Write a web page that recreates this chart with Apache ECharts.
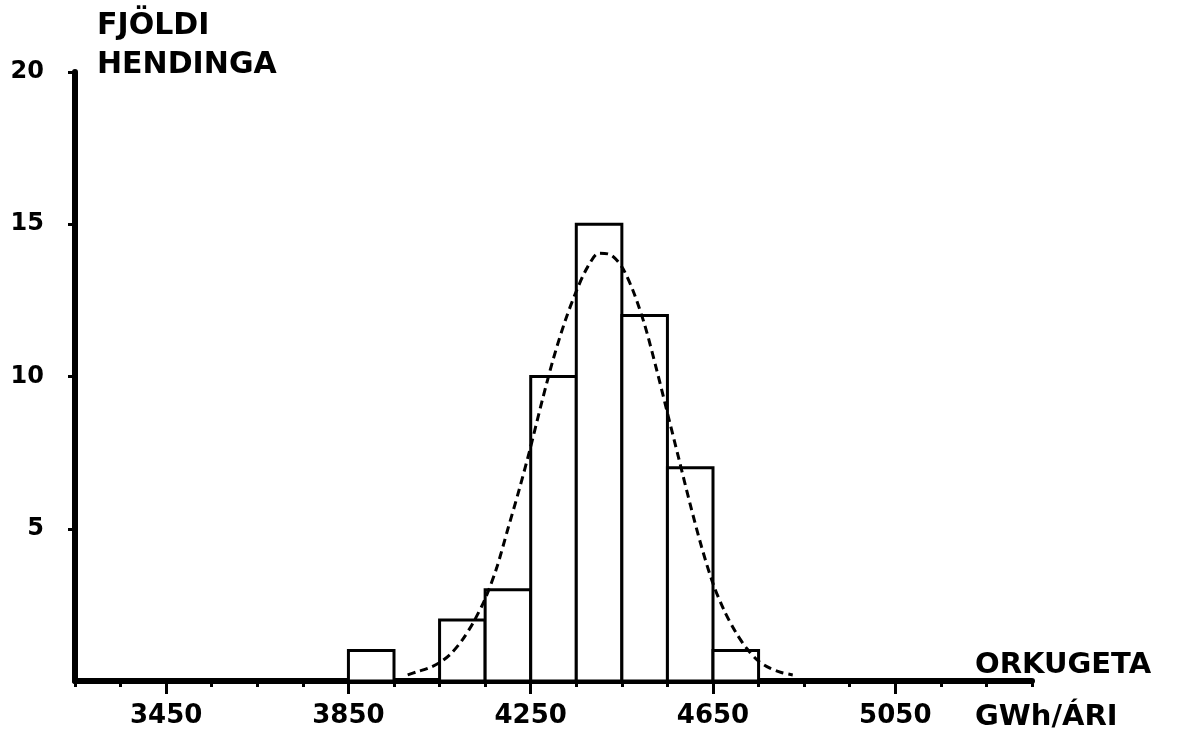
<!DOCTYPE html>
<html>
<head>
<meta charset="utf-8">
<script src="https://cdn.jsdelivr.net/npm/echarts@6/dist/echarts.min.js"></script>
<style>
html,body{margin:0;padding:0;background:#fff;}
#chart{width:1185px;height:736px;}
</style>
</head>
<body>
<div id="chart"></div>
<script>
// ---- data ----
const binStarts = [3850, 4050, 4150, 4250, 4350, 4450, 4550, 4650];
const counts = [1, 2, 3, 10, 15, 12, 7, 1];
const binWidth = 100;
const curveX = [3980, 4000, 4025, 4050, 4075, 4100, 4125, 4150, 4175, 4200, 4225, 4250, 4275, 4300, 4325, 4350, 4375, 4400,
                4425, 4450, 4475, 4500, 4525, 4550, 4575, 4600, 4625, 4650, 4675, 4700, 4725, 4750, 4775, 4800, 4825];
const curveY = [0.2, 0.3, 0.42, 0.6, 0.9, 1.35, 1.95, 2.7, 3.7, 5.0, 6.3, 7.7, 9.2, 10.6, 11.8, 12.8, 13.6, 14.05,
                14.0, 13.6, 12.8, 11.7, 10.3, 8.8, 7.3, 5.8, 4.4, 3.2, 2.3, 1.6, 1.05, 0.65, 0.42, 0.28, 0.2];
const xTickLabels = [3450, 3850, 4250, 4650, 5050];
const yTickLabels = [5, 10, 15, 20];
const yTitle = ['FJÖLDI', 'HENDINGA'];
const xTitle = ['ORKUGETA', 'GWh/ÁRI'];

const FONT = 'DejaVu Sans';
const chart = echarts.init(document.getElementById('chart'), null, {renderer: 'canvas'});

const barData = binStarts.map((s, i) => [s, s + binWidth, counts[i]]);
const curveData = curveX.map((x, i) => [x, curveY[i]]);

const option = {
  backgroundColor: '#fff',
  animation: false,
  grid: {left: 75, right: 153, top: 72, bottom: 55, containLabel: false},
  xAxis: [{
    type: 'value', min: 3250, max: 5350, interval: 100,
    axisLine: {show: true, lineStyle: {color: '#000', width: 6}},
    axisTick: {show: true, length: 6, lineStyle: {color: '#000', width: 3}},
    axisLabel: {show: true, customValues: xTickLabels, margin: 22,
      formatter: function (v) { return String(v); },
      color: '#000', fontFamily: FONT, fontWeight: 'bold', fontSize: 26},
    splitLine: {show: false}
  }, {
    type: 'value', min: 3250, max: 5350, position: 'bottom',
    axisLine: {show: false},
    axisTick: {show: true, customValues: xTickLabels, length: 13, lineStyle: {color: '#000', width: 3}},
    axisLabel: {show: false},
    splitLine: {show: false}
  }],
  yAxis: {
    type: 'value', min: 0, max: 20, interval: 5,
    axisLine: {show: true, lineStyle: {color: '#000', width: 6}},
    axisTick: {show: true, customValues: yTickLabels, length: 7, lineStyle: {color: '#000', width: 3}},
    axisLabel: {show: true, customValues: yTickLabels, margin: 31,
      formatter: function (v) { return String(v); },
      color: '#000', fontFamily: FONT, fontWeight: 'bold', fontSize: 24},
    splitLine: {show: false}
  },
  series: [{
    type: 'custom',
    xAxisIndex: 0,
    data: barData,
    renderItem: function (params, api) {
      const p0 = api.coord([api.value(0), api.value(2)]);
      const p1 = api.coord([api.value(1), 0]);
      return {
        type: 'rect',
        shape: {x: p0[0], y: p0[1], width: p1[0] - p0[0], height: p1[1] - p0[1]},
        style: {fill: '#fff', stroke: '#000', lineWidth: 3}
      };
    },
    z: 2
  }, {
    type: 'line',
    xAxisIndex: 0,
    data: curveData,
    smooth: 0.3,
    showSymbol: false,
    symbol: 'none',
    lineStyle: {color: '#000', width: 3, type: [8, 5]},
    z: 3
  }],
  graphic: [
    {type: 'text', left: 97, top: 11, style: {text: yTitle[0], fill: '#000', font: 'bold 30px "DejaVu Sans"'}},
    {type: 'text', left: 97, top: 50, style: {text: yTitle[1], fill: '#000', font: 'bold 30px "DejaVu Sans"'}},
    {type: 'text', left: 975, top: 651, style: {text: xTitle[0], fill: '#000', font: 'bold 29px "DejaVu Sans"'}},
    {type: 'text', left: 975, top: 703, style: {text: xTitle[1], fill: '#000', font: 'bold 29px "DejaVu Sans"'}}
  ]
};
chart.setOption(option);
</script>
</body>
</html>
